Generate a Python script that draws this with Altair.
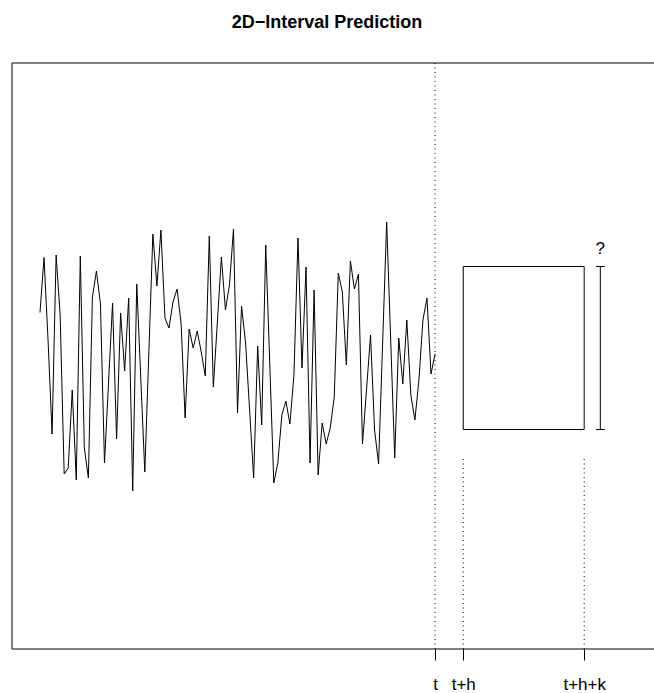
import altair as alt
import pandas as pd

# ---- data ----
series_y = [
    0.95, 2.05, 0.40, -1.48, 2.10, 0.90, -2.28, -2.16, -0.60, -2.40,
    2.08, -1.76, -2.36, 1.26, 1.78, 1.12, -2.06, -0.46, 1.14, -1.58,
    0.94, -0.22, 1.24, -2.62, 1.52, -0.36, -2.24, 0.14, 2.52, 1.48,
    2.60, 0.84, 0.64, 1.16, 1.42, 0.74, -1.16, 0.62, 0.24, 0.58,
    0.16, -0.32, 2.48, -0.54, 0.76, 2.06, 1.00, 1.50, 2.62, -1.06,
    1.08, 0.34, -1.00, -2.36, 0.28, -1.30, 2.30, -0.08, -2.46, -2.06,
    -1.10, -0.82, -1.28, -0.30, 2.44, -0.16, 1.86, -2.06, 1.40, -2.30,
    -1.26, -1.68, -1.36, -0.74, 1.74, 1.36, -0.10, 1.98, 1.42, 1.72,
    -1.68, -0.60, 0.50, -1.40, -2.08, 0.34, 2.76, 0.40, -1.96, 0.44,
    -0.48, 0.80, -0.70, -1.20, -0.40, 0.80, 1.24, -0.28, 0.12,
]
series_t = list(range(1, len(series_y) + 1))

t_now = 99
h = 7
k = 30
box_low = -1.39
box_high = 1.87
guide_top = -1.92
bar_x = 140
cap_half = 1.1
qmark_y = 2.22
tick_values = [t_now, t_now + h, t_now + h + k]
tick_labels = ["t", "t+h", "t+h+k"]
x_domain = [-5.946, 153.32]
y_domain = [-5.78, 5.94]

FONT = "Liberation Sans"

xs = alt.Scale(domain=x_domain, nice=False, zero=False)
ys = alt.Scale(domain=y_domain, nice=False, zero=False)

label_expr = " : ".join(
    f"datum.value == {v} ? '{l}'" for v, l in zip(tick_values[:-1], tick_labels[:-1])
) + f" : '{tick_labels[-1]}'"

x_axis = alt.Axis(
    values=tick_values,
    labelExpr=label_expr,
    title=None,
    grid=False,
    domain=False,
    ticks=True,
    tickColor="black",
    tickSize=11,
    tickWidth=1,
    labelFontSize=17,
    labelFont=FONT,
    labelColor="black",
    labelPadding=16,
    labelFlush=False,
    labelOverlap=False,
    labelBound=False,
)


def X(field):
    return alt.X(field, scale=xs, axis=x_axis, title=None)


def Y(field):
    return alt.Y(field, scale=ys, axis=None)


series_df = pd.DataFrame({"t": series_t, "y": series_y})

line = alt.Chart(series_df).mark_line(color="black", strokeWidth=1).encode(
    x=X("t:Q"),
    y=Y("y:Q"),
)

# frame: left, top, bottom (right edge lies outside the picture)
frame_v = pd.DataFrame({"x": [x_domain[0]], "y": [y_domain[0]], "y2": [y_domain[1]]})
frame_h = pd.DataFrame({"x": [x_domain[0], x_domain[0]], "x2": [x_domain[1], x_domain[1]],
                        "y": [y_domain[0], y_domain[1]]})
left_rule = alt.Chart(frame_v).mark_rule(color="black", strokeWidth=1).encode(
    x=X("x:Q"), y=Y("y:Q"), y2="y2:Q",
)
hz_rules = alt.Chart(frame_h).mark_rule(color="black", strokeWidth=1).encode(
    x=X("x:Q"), x2="x2:Q", y=Y("y:Q"),
)

# dotted guide at t (full height)
t_df = pd.DataFrame({"x": [t_now], "y": [y_domain[0]], "y2": [y_domain[1]]})
t_rule = alt.Chart(t_df).mark_rule(color="black", strokeWidth=1, strokeDash=[1, 3.5]).encode(
    x=X("x:Q"), y=Y("y:Q"), y2="y2:Q",
)

# dotted guides at t+h and t+h+k (below the box)
g_df = pd.DataFrame({"x": [t_now + h, t_now + h + k], "y": [y_domain[0]] * 2, "y2": [guide_top] * 2})
g_rules = alt.Chart(g_df).mark_rule(color="black", strokeWidth=1, strokeDash=[1, 3.5]).encode(
    x=X("x:Q"), y=Y("y:Q"), y2="y2:Q",
)

# prediction box
box_df = pd.DataFrame({"x": [t_now + h], "x2": [t_now + h + k], "y": [box_low], "y2": [box_high]})
box = alt.Chart(box_df).mark_rect(fillOpacity=0, stroke="black", strokeWidth=1).encode(
    x=X("x:Q"), x2="x2:Q", y=Y("y:Q"), y2="y2:Q",
)

# interval bar with caps
bar_df = pd.DataFrame({"x": [bar_x], "y": [box_low], "y2": [box_high]})
bar = alt.Chart(bar_df).mark_rule(color="black", strokeWidth=1).encode(
    x=X("x:Q"), y=Y("y:Q"), y2="y2:Q",
)
caps_df = pd.DataFrame({"x": [bar_x - cap_half] * 2, "x2": [bar_x + cap_half] * 2, "y": [box_low, box_high]})
caps = alt.Chart(caps_df).mark_rule(color="black", strokeWidth=1).encode(
    x=X("x:Q"), x2="x2:Q", y=Y("y:Q"),
)

q_df = pd.DataFrame({"x": [bar_x], "y": [qmark_y], "label": ["?"]})
qmark = alt.Chart(q_df).mark_text(font=FONT, fontSize=17, color="black", baseline="middle", align="center").encode(
    x=X("x:Q"), y=Y("y:Q"), text="label:N",
)

chart = alt.layer(
    line, left_rule, hz_rules, t_rule, g_rules, box, bar, caps, qmark
).properties(
    width=642,
    height=586,
    autosize=alt.AutoSizeParams(type="none"),
    padding={"left": 12, "top": 63, "right": 0, "bottom": 44},
    background="white",
    title=alt.TitleParams(
        text="2D\u2212Interval Prediction",
        font=FONT,
        fontSize=18,
        fontWeight="bold",
        color="black",
        anchor="middle",
        dx=-6,
        baseline="alphabetic",
        offset=17,
    ),
).configure_view(stroke="transparent")

chart.save("out.html", embed_options={"renderer": "svg", "actions": False})
